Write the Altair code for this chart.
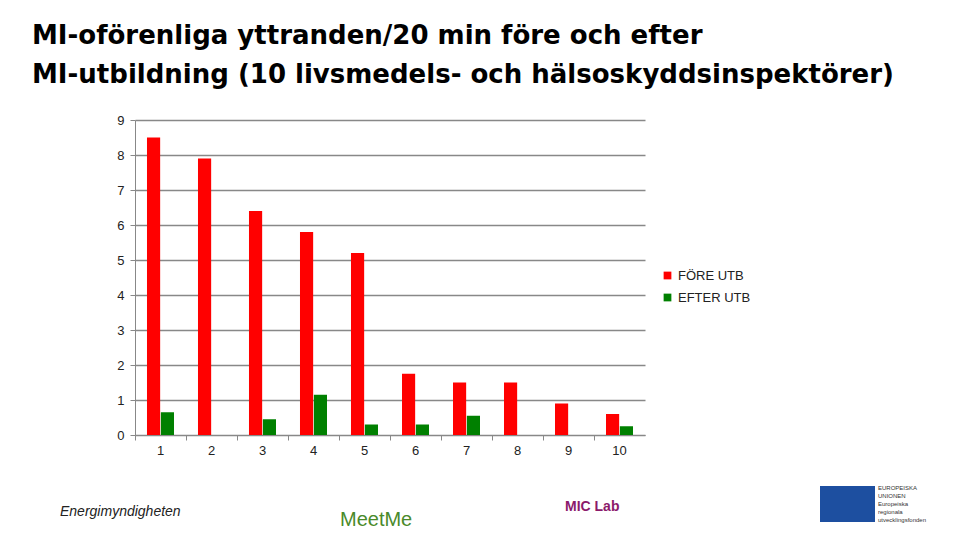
import altair as alt
import pandas as pd

categories = [str(i) for i in range(1, 11)]
fore = [8.5, 7.9, 6.4, 5.8, 5.2, 1.75, 1.5, 1.5, 0.9, 0.6]
efter = [0.65, 0, 0.45, 1.15, 0.3, 0.3, 0.55, 0, 0, 0.25]
series = ["FÖRE UTB", "EFTER UTB"]
colors = ["#FF0000", "#008000"]
title_lines = ["MI-oförenliga yttranden/20 min före och efter",
               "MI-utbildning (10 livsmedels- och hälsoskyddsinspektörer)"]

rows = []
for c, f, e in zip(categories, fore, efter):
    rows.append({"cat": c, "series": series[0], "value": f})
    rows.append({"cat": c, "series": series[1], "value": e})
df = pd.DataFrame(rows)

FONT = "Liberation Sans"

bars = alt.Chart(df).mark_bar().encode(
    x=alt.X("cat:O", sort=categories, title=None,
            scale=alt.Scale(paddingInner=0.47, paddingOuter=0.235),
            axis=alt.Axis(labelAngle=0, labelFontSize=13, labelFont=FONT, labelColor="#222",
                          domainColor="#888", tickColor="#888", tickSize=5,
                          bandPosition=-0.443, labelPadding=4, grid=False)),
    xOffset=alt.XOffset("series:N", sort=series, scale=alt.Scale(paddingInner=0.05)),
    y=alt.Y("value:Q", title=None,
            scale=alt.Scale(domain=[0, 9], nice=False),
            axis=alt.Axis(values=list(range(10)), labelFontSize=13, labelFont=FONT,
                          labelColor="#222", gridColor="#888", gridWidth=1.5,
                          domainColor="#888", tickColor="#888", tickSize=5, labelPadding=6)),
    color=alt.Color("series:N", sort=series,
                    scale=alt.Scale(domain=series, range=colors),
                    legend=alt.Legend(title=None, orient="none", legendX=526, legendY=149,
                                      symbolType="square", symbolSize=60, labelFontSize=13,
                                      labelFont=FONT, labelColor="#222", rowPadding=8,
                                      symbolStrokeWidth=0)),
)

# decorative footer logos rendered as text
def logo(text, x, y, color, size, weight="normal", style="normal"):
    return alt.Chart(pd.DataFrame({"t": [text]})).mark_text(
        align="left", baseline="middle", font=FONT, color=color, fontSize=size,
        fontWeight=weight, fontStyle=style).encode(x=alt.value(x), y=alt.value(y), text="t:N")

logos = [
    logo("Energimyndigheten", -75, 392, "#222", 14, style="italic"),
    logo("MeetMe", 205, 400, "#4a8a2a", 20),
    logo("MIC Lab", 430, 387, "#8b1a6b", 14, "bold"),
]
eu_box = alt.Chart(pd.DataFrame([{"a": 1}])).mark_rect(color="#1d4fa0").encode(
    x=alt.value(685), x2=alt.value(740), y=alt.value(366), y2=alt.value(402))
eu_text = alt.Chart(pd.DataFrame({"t": ["EUROPEISKA", "UNIONEN", "Europeiska", "regionala", "utvecklingsfonden"],
                                  "y": [368, 376, 384, 392, 400]})).mark_text(
    align="left", baseline="middle", fontSize=6, font=FONT, color="#333").encode(
    x=alt.value(743), y=alt.Y("y:Q", scale=None), text="t:N")

chart = alt.layer(bars, *logos, eu_box, eu_text).properties(
    width=510, height=315,
    padding={"left": 127, "top": 112, "right": 300, "bottom": 95},
    autosize=alt.AutoSizeParams(type="none"),
    title=alt.TitleParams(title_lines, anchor="start", frame="group", dx=-103, fontSize=26,
                          font="DejaVu Sans", fontWeight="bold", color="#000", lineHeight=39,
                          offset=26),
).configure_view(stroke=None).configure_axis(labelFont=FONT)

chart.save("out.html", embed_options={"renderer": "svg", "actions": False})
